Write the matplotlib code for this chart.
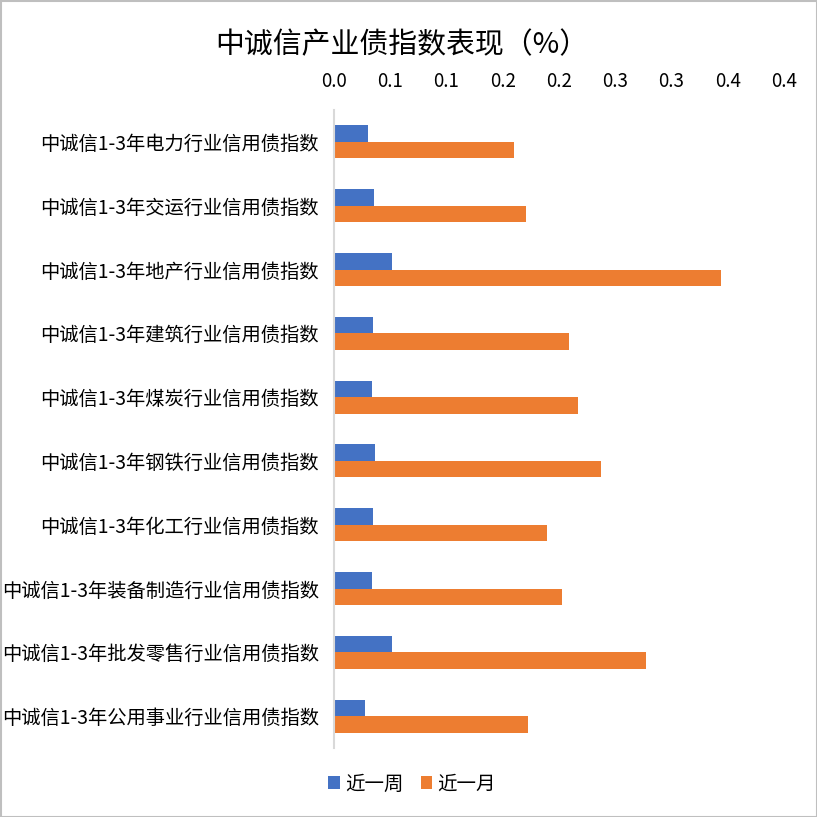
import matplotlib
matplotlib.use("Agg")
import matplotlib.pyplot as plt
import numpy as np
from matplotlib.patches import Rectangle

plt.rcParams['font.family'] = ['Noto Sans CJK SC', 'DejaVu Sans']

categories = ["中诚信1-3年电力行业信用债指数", "中诚信1-3年交运行业信用债指数",
              "中诚信1-3年地产行业信用债指数", "中诚信1-3年建筑行业信用债指数",
              "中诚信1-3年煤炭行业信用债指数", "中诚信1-3年钢铁行业信用债指数",
              "中诚信1-3年化工行业信用债指数", "中诚信1-3年装备制造行业信用债指数",
              "中诚信1-3年批发零售行业信用债指数", "中诚信1-3年公用事业行业信用债指数"]
week = [0.030, 0.0355, 0.0515, 0.0345, 0.0337, 0.0362, 0.0345, 0.0337, 0.0515, 0.0275]
month = [0.160, 0.171, 0.344, 0.209, 0.217, 0.237, 0.189, 0.203, 0.277, 0.172]
tick_vals = [0.0, 0.05, 0.10, 0.15, 0.20, 0.25, 0.30, 0.35, 0.40]
tick_labels = ["0.0", "0.1", "0.1", "0.2", "0.2", "0.3", "0.3", "0.4", "0.4"]

W, H = 817, 817
fig = plt.figure(figsize=(W/100, H/100), dpi=100)
ax = fig.add_axes([334/W, 1-748/H, (784-334)/W, (748-110)/H])

y = np.arange(len(categories))
h = 0.26
ax.barh(y - h/2, week, height=h, color='#4472C4', label='近一周')
ax.barh(y + h/2, month, height=h, color='#ED7D31', label='近一月')

ax.set_ylim(len(categories) - 0.5, -0.5)
ax.set_xlim(0, 0.40)
ax.set_yticks(y)
ax.set_yticklabels(categories, fontsize=13.9, color='#000000')
ax.set_xticks(tick_vals)
ax.set_xticklabels(tick_labels, fontsize=13.5, color='#000000')
ax.xaxis.tick_top()
ax.tick_params(axis='both', length=0)
ax.tick_params(axis='x', pad=13)
ax.tick_params(axis='y', pad=11)
for s in ['top', 'right', 'bottom']:
    ax.spines[s].set_visible(False)
ax.spines['left'].set_color('#D9D9D9')
ax.spines['left'].set_linewidth(1.5)

fig.text(402/W, 1-45/H, "中诚信产业债指数表现（%）", ha='center', va='center', fontsize=20.8, color='#000000')

leg = fig.legend(loc='center', bbox_to_anchor=(412/W, 1-784/H), ncol=2, frameon=False,
                 fontsize=14, handlelength=0.6, handleheight=0.6, handletextpad=0.25,
                 columnspacing=0.9)

fig.patches.append(Rectangle((0.5/W, 0.5/H), 1-1/W, 1-1/H, transform=fig.transFigure,
                             fill=False, edgecolor='#BFBFBF', linewidth=1.5))

fig.savefig('out.png', dpi=100)
